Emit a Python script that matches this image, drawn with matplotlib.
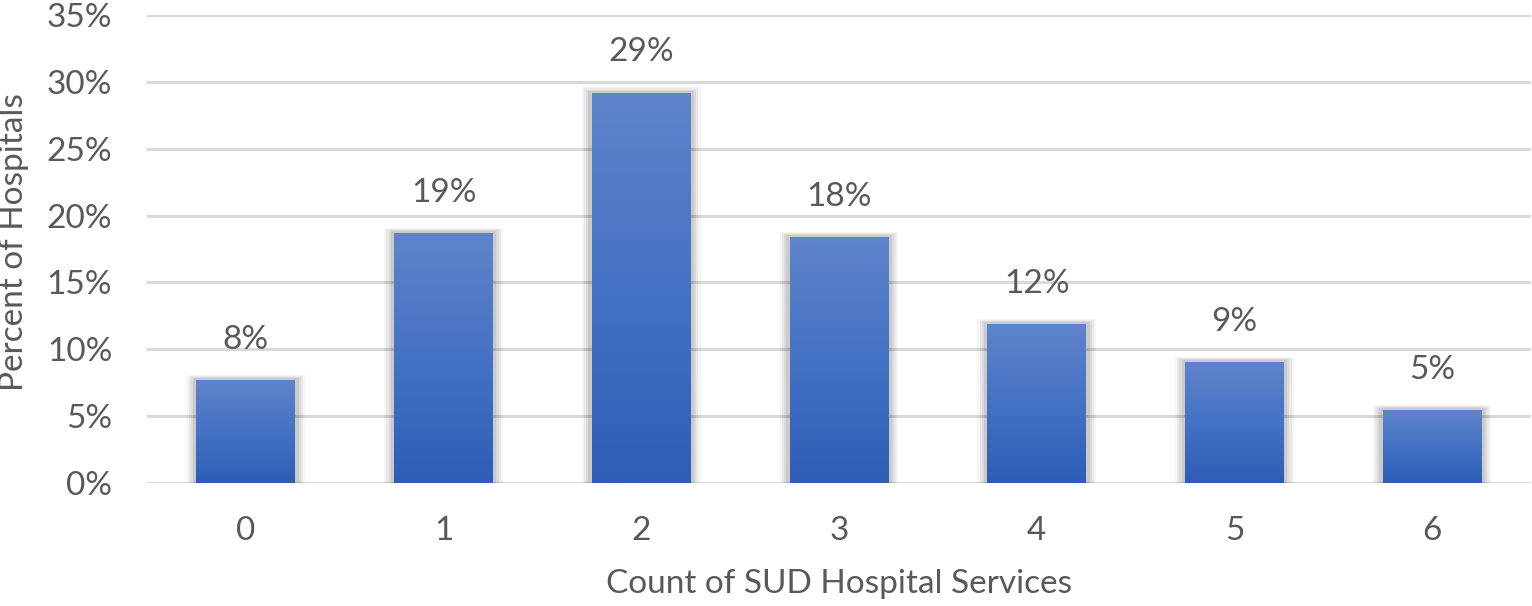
import numpy as np
import matplotlib.pyplot as plt
from matplotlib.colors import LinearSegmentedColormap
from matplotlib.patches import Rectangle

categories = ["0", "1", "2", "3", "4", "5", "6"]
values = [7.7, 18.7, 29.2, 18.4, 11.9, 9.05, 5.45]
labels = ["8%", "19%", "29%", "18%", "12%", "9%", "5%"]
yticks = [0, 5, 10, 15, 20, 25, 30, 35]

plt.rcParams['font.family'] = ['Lato', 'DejaVu Sans']
text_color = '#595959'
fs = 24

W, H = 1532, 606
fig = plt.figure(figsize=(W / 100, H / 100), dpi=100)
ax = fig.add_axes([147 / W, 1 - 483 / H, (1531 - 147) / W, (483 - 15) / H])

x = np.arange(len(categories))
width = 0.5
cmap = LinearSegmentedColormap.from_list('bar', ['#2E5DB6', '#4472C4', '#5F84CA'])
grad = np.linspace(0, 1, 256).reshape(-1, 1)

for xi, v in zip(x, values):
    # soft shadow
    for k, a in enumerate([0.04, 0.05, 0.06, 0.07]):
        dx = 0.05 - k * 0.011
        dy = 0.4 - k * 0.09
        ax.add_patch(Rectangle((xi - width / 2 - dx, -dy), width + 2 * dx, v + 2 * dy,
                               facecolor='black', alpha=a, edgecolor='none', zorder=2))
    bar = ax.bar(xi, v, width=width, color='none', zorder=3)[0]
    im = ax.imshow(grad, cmap=cmap, origin='lower', aspect='auto',
                   extent=[xi - width / 2, xi + width / 2, 0, v], zorder=3)
    im.set_clip_path(bar)
    ax.text(xi, v + 3.0, labels[xi], ha='center', va='center', fontsize=fs, color=text_color)

ax.set_xlim(-0.5, len(categories) - 0.5)
ax.set_ylim(0, 35)
ax.set_yticks(yticks)
ax.set_yticklabels([f"{t}%" for t in yticks])
ax.set_xticks(x)
ax.set_xticklabels(categories)
ax.yaxis.grid(True, color='#D9D9D9', linewidth=2.2, zorder=0)
ax.set_axisbelow(True)
for s in ax.spines.values():
    s.set_visible(False)
ax.tick_params(axis='both', length=0, labelsize=fs, colors=text_color)
ax.tick_params(axis='y', pad=25)
ax.tick_params(axis='x', pad=24)

fig.text(839 / W, 1 - 584 / H, "Count of SUD Hospital Services", fontsize=fs,
         color=text_color, ha='center', va='center')
fig.text(14 / W, 1 - 242 / H, "Percent of Hospitals", fontsize=fs,
         color=text_color, ha='center', va='center', rotation=90)

fig.savefig("out.png", dpi=100)
